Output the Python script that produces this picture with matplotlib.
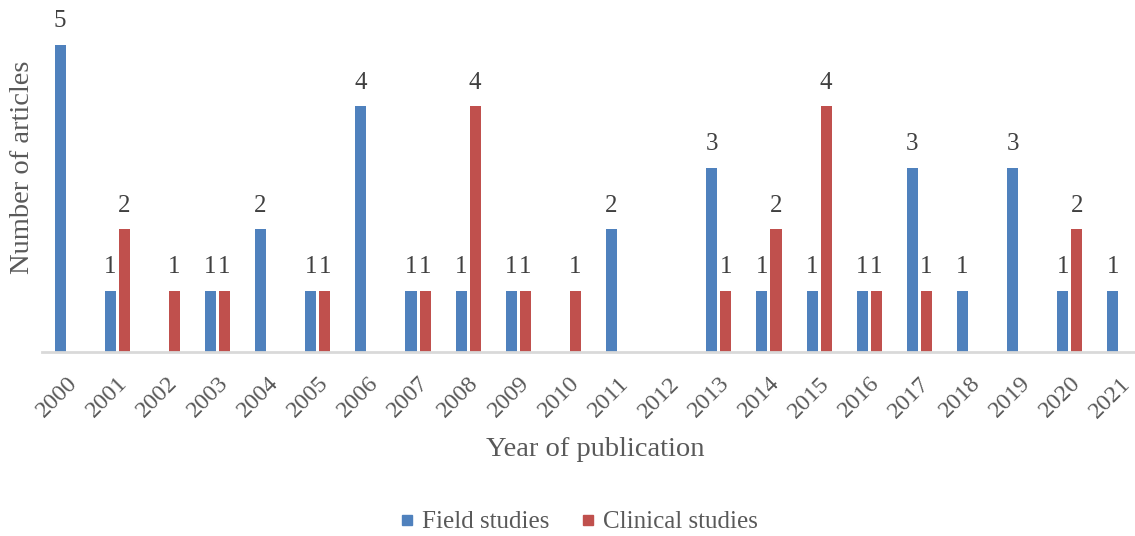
import matplotlib.pyplot as plt
import numpy as np

plt.rcParams['font.family'] = ['Liberation Serif', 'DejaVu Serif']

years = ['2000', '2001', '2002', '2003', '2004', '2005', '2006', '2007', '2008', '2009', '2010',
         '2011', '2012', '2013', '2014', '2015', '2016', '2017', '2018', '2019', '2020', '2021']
field = [5, 1, 0, 1, 2, 1, 4, 1, 1, 1, 0, 2, 0, 3, 1, 1, 1, 3, 1, 3, 1, 1]
clinical = [0, 2, 1, 1, 0, 1, 0, 1, 4, 1, 1, 0, 0, 1, 2, 4, 1, 1, 0, 0, 2, 0]

blue = '#4F81BD'
red = '#C0504D'
label_col = '#404040'
text_col = '#595959'

fig = plt.figure(figsize=(11.35, 5.36), dpi=100)
# plot area runs a bit past the right edge, like the original
ax = fig.add_axes([42 / 1135, 184 / 536, 1103 / 1135, 338 / 536])

x = np.arange(len(years))
w = 0.22
off = 0.14
b1 = ax.bar(x - off, field, w, color=blue, label='Field studies')
b2 = ax.bar(x + off, clinical, w, color=red, label='Clinical studies')

# data labels (zeros are not labelled)
for bars, vals in [(b1, field), (b2, clinical)]:
    for rect, v in zip(bars, vals):
        if v == 0:
            continue
        ax.annotate(str(v), (rect.get_x() + rect.get_width() / 2, v),
                    xytext=(0, 9), textcoords='offset points',
                    ha='center', va='bottom', fontsize=18, color=label_col)

ax.set_xlim(-0.5, len(years) - 0.5)
ax.set_ylim(0, 5.5)
ax.set_yticks([])
ax.set_xticks(x)
ax.set_xticklabels(years, rotation=45, ha='right', rotation_mode='anchor',
                   fontsize=17.5, color=text_col)
ax.tick_params(axis='x', length=0, pad=15)
for s in ['top', 'right', 'left']:
    ax.spines[s].set_visible(False)
ax.spines['bottom'].set_color('#D9D9D9')
ax.spines['bottom'].set_linewidth(2)

ax.set_ylabel('Number of articles', fontsize=20.5, color=text_col)
ax.yaxis.set_label_coords(-0.006, 0.547)
fig.text(595 / 1135, 1 - 450 / 536, 'Year of publication', fontsize=20.5,
         color=text_col, ha='center', va='center')

handles = [plt.Line2D([], [], marker='s', linestyle='', color=blue, markersize=7.5),
           plt.Line2D([], [], marker='s', linestyle='', color=red, markersize=7.5)]
leg = fig.legend(handles, ['Field studies', 'Clinical studies'], loc='center',
                 bbox_to_anchor=(579 / 1135, 1 - 522 / 536), ncol=2, frameon=False,
                 fontsize=18, handlelength=0.5, handletextpad=0.35, columnspacing=1.3)
for t in leg.get_texts():
    t.set_color(text_col)

fig.savefig('out.png', dpi=100)
